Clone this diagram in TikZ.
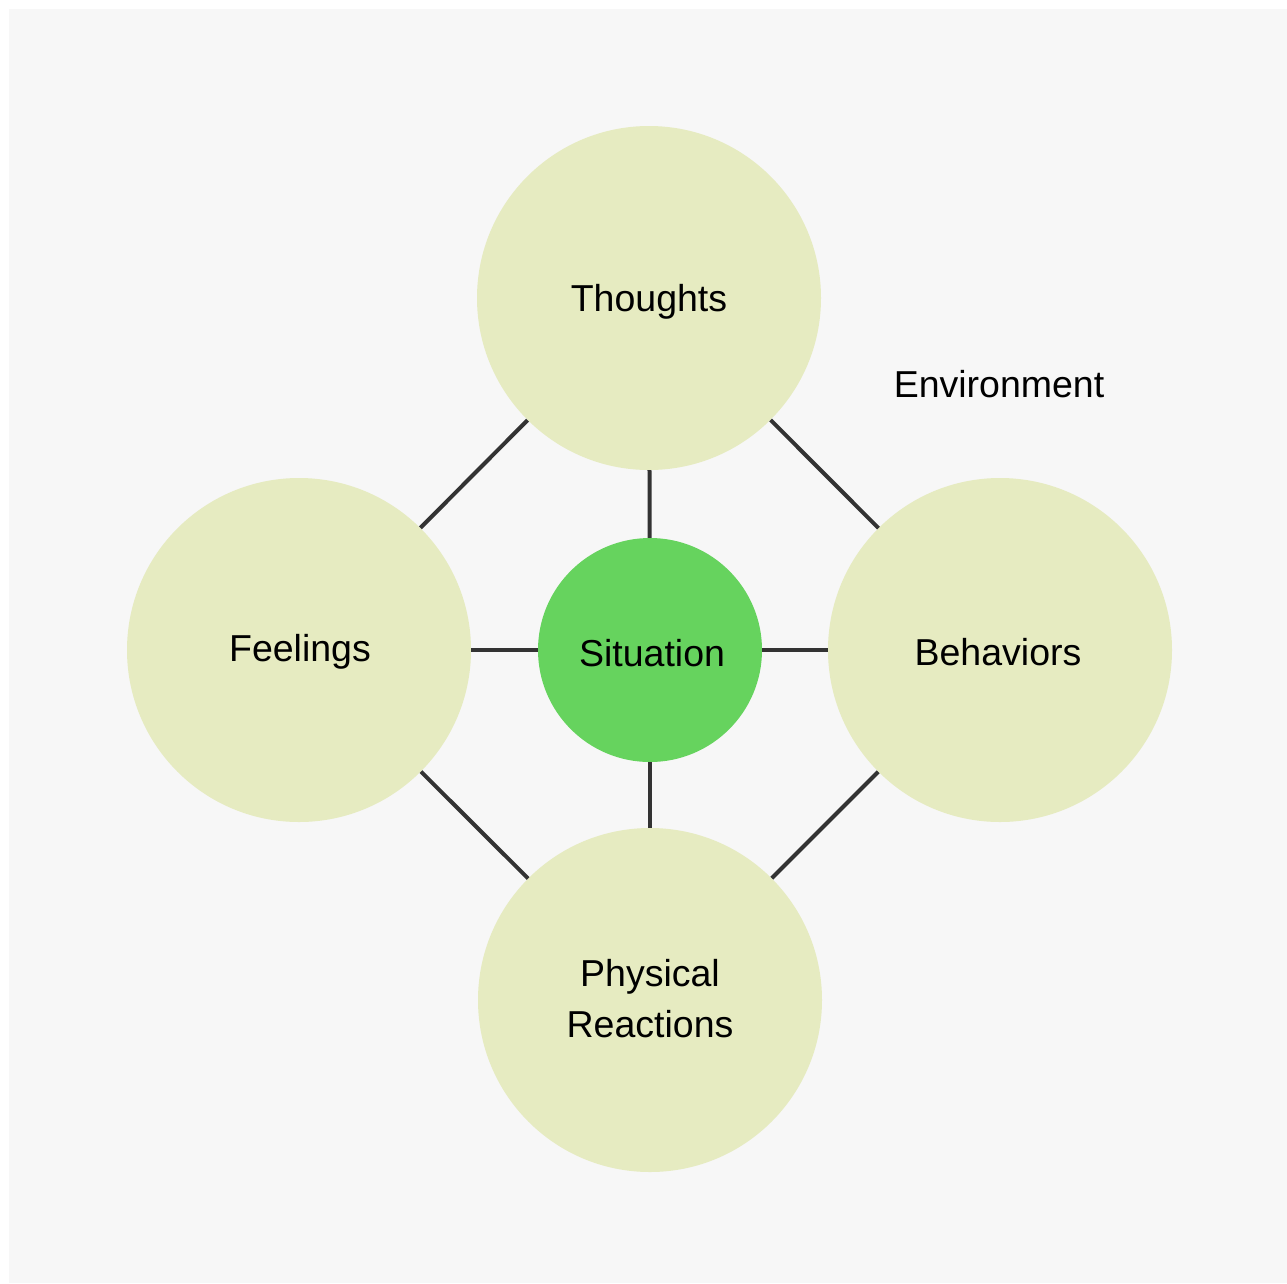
\documentclass[tikz,border=0pt]{standalone}
\usepackage{fontspec}
\setmainfont{Liberation Sans}
\definecolor{bgcol}{HTML}{F7F7F7}
\definecolor{pale}{HTML}{E6EBC1}
\definecolor{sitgreen}{HTML}{66D35E}
\definecolor{linecol}{HTML}{333333}
\begin{document}
\begin{tikzpicture}[x=1pt,y=-1pt,
  bigcircle/.style={circle,fill=pale,draw=none,minimum size=344pt,inner sep=0pt},
  smallcircle/.style={circle,fill=sitgreen,draw=none,minimum size=224pt,inner sep=0pt},
  lab/.style={font=\fontsize{37.5}{51}\selectfont,align=center,inner sep=0pt},
  link/.style={draw=linecol,line width=4pt}]
\useasboundingbox (0,0) rectangle (1287,1283);
\fill[white] (0,0) rectangle (1287,1283);
\fill[bgcol] (9,9) rectangle (1287,1283);
\node[bigcircle] (thoughts) at (649,298) {};
\node[bigcircle] (feelings) at (299,650) {};
\node[bigcircle] (behaviors) at (1000,650) {};
\node[bigcircle] (physical) at (650,1000) {};
\node[smallcircle] (situation) at (650,650) {};
\node[lab] (tlab) at (649,302) {Thoughts};
\node[lab] (flab) at (300,652) {Feelings};
\node[lab] (blab) at (998,652) {Behaviors};
\node[lab] (plab) at (650,999) {Physical\\Reactions};
\node[lab] (slab) at (652,653) {Situation};
\node[lab] (env) at (999,384) {Environment};
\draw[link] (thoughts) -- (situation);
\draw[link] (feelings) -- (situation);
\draw[link] (behaviors) -- (situation);
\draw[link] (physical) -- (situation);
\draw[link] (thoughts) -- (feelings);
\draw[link] (thoughts) -- (behaviors);
\draw[link] (feelings) -- (physical);
\draw[link] (behaviors) -- (physical);
\end{tikzpicture}
\end{document}
